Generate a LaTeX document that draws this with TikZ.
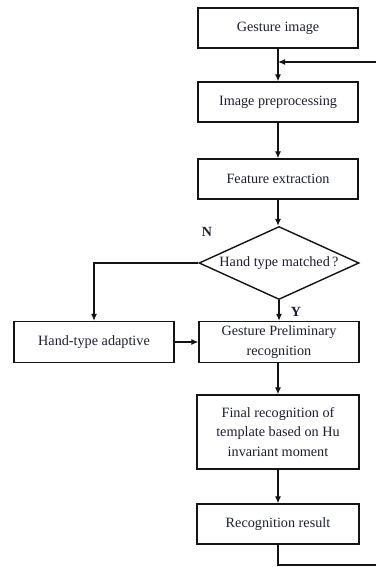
\documentclass[tikz,border=0pt]{standalone}
\usepackage{fontspec}
\setmainfont{Liberation Serif}
\usetikzlibrary{shapes.geometric,arrows.meta}
\definecolor{txt}{RGB}{30,30,50}
\definecolor{ln}{RGB}{20,20,20}
\tikzset{
  box/.style={draw=ln, line width=1.4pt, minimum width=160pt, minimum height=40pt,
    inner sep=2pt, align=center, font=\fontsize{14.2}{19.5}\selectfont, text=txt},
  dec/.style={draw=ln, line width=1.4pt, shape=diamond, aspect=2.19, inner sep=0pt,
    minimum width=160pt, minimum height=73pt, font=\fontsize{14.2}{17}\selectfont, text=txt},
  conn/.style={draw=ln, line width=1.1pt, -{Latex[length=7pt,width=6pt]}},
  plain/.style={draw=ln, line width=1.1pt},
  lab/.style={font=\fontsize{14}{16}\selectfont\bfseries, text=txt}
}
\begin{document}
\begin{tikzpicture}[x=1pt,y=-1pt]
\useasboundingbox (0,0) rectangle (375,567);
\node[box] (g1) at (278,28) {Gesture image};
\node[box] (g2) at (278,102) {Image preprocessing};
\node[box] (g3) at (278,179) {Feature extraction};
\node[dec] (d) at (279,263) {Hand type matched\,?};
\node[box, minimum height=41pt] (h) at (94,342) {Hand-type adaptive};
\node[box, minimum height=41pt] (p) at (279,342) {Gesture Preliminary\\recognition};
\node[box, minimum width=162pt, minimum height=74pt] (f) at (278,432) {Final recognition of\\template based on Hu\\invariant moment};
\node[box, minimum width=162pt] (r) at (278,524) {Recognition result};
\node[lab] (nl) at (207,232) {N};
\node[lab] (yl) at (296,312) {Y};
\coordinate (fbR) at (376,62);
\coordinate (fbB) at (376,565);
\draw[conn] (g1.south) -- (g2.north);
\draw[conn] (fbR) -- (fbR -| g1.south);
\draw[conn] (g2.south) -- (g3.north);
\draw[conn] (g3.south) -- (g3.south |- d.north);
\draw[conn] (d.south) -- (d.south |- p.north);
\draw[conn] (d.west) -| (h.north);
\draw[conn] (h.east) -- (p.west);
\draw[conn] (p.south -| f.north) -- (f.north);
\draw[conn] (f.south) -- (r.north);
\draw[plain] (r.south) |- (fbB);
\end{tikzpicture}
\end{document}
